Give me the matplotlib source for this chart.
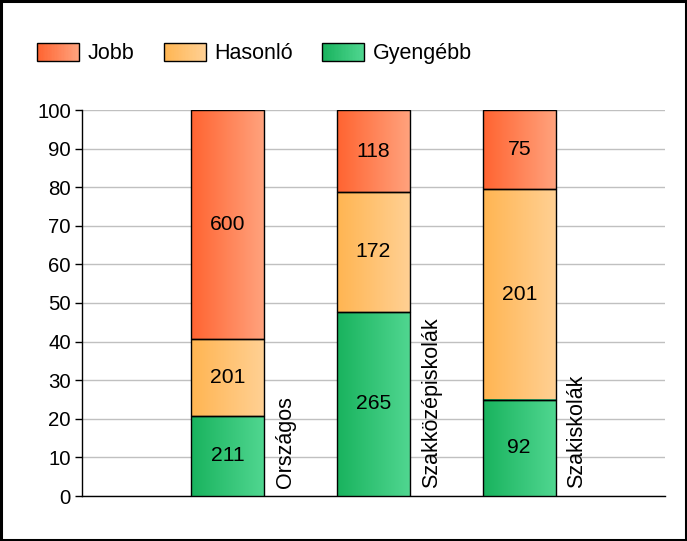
import matplotlib
matplotlib.use("Agg")
import matplotlib.pyplot as plt
import numpy as np
from matplotlib.patches import Rectangle
from matplotlib.legend_handler import HandlerBase
from matplotlib.colors import to_rgb

plt.rcParams['font.family'] = ['Liberation Sans', 'DejaVu Sans']

categories = ["Országos", "Szakközépiskolák", "Szakiskolák"]
series_names = ["Jobb", "Hasonló", "Gyengébb"]
gyengebb = [211, 265, 92]
hasonlo = [201, 172, 201]
jobb = [600, 118, 75]
yticks = [0, 10, 20, 30, 40, 50, 60, 70, 80, 90, 100]

grad = {
    "Gyengébb": ("#19b35e", "#50d690"),
    "Hasonló": ("#ffb552", "#ffd093"),
    "Jobb": ("#ff6431", "#ffa27d"),
}

FS_TICK = 14.7
FS_VAL = 15.2
FS_CAT = 15.5
FS_LEG = 15.5

fig = plt.figure(figsize=(6.87, 5.41), dpi=100)
ax = fig.add_axes([82/687, 1-496/541, (665-82)/687, (496-110)/541])

x = np.arange(len(categories))
totals = np.array(gyengebb) + np.array(hasonlo) + np.array(jobb)
stack = [("Gyengébb", gyengebb), ("Hasonló", hasonlo), ("Jobb", jobb)]
bottom = np.zeros(len(categories))
width = 0.5

def gradient_img(c1, c2, n=64):
    a = np.array(to_rgb(c1)); b = np.array(to_rgb(c2))
    t = np.linspace(0, 1, n)[None, :, None]
    return (a[None, None, :] * (1 - t) + b[None, None, :] * t)

for name, vals in stack:
    pct = np.array(vals) / totals * 100
    bars = ax.bar(x, pct, width, bottom=bottom, facecolor='none',
                  edgecolor='black', linewidth=1, zorder=4)
    img = gradient_img(*grad[name])
    for b, v in zip(bars, vals):
        x0, y0 = b.get_x(), b.get_y()
        w, h = b.get_width(), b.get_height()
        ax.imshow(img, extent=(x0, x0 + w, y0, y0 + h), aspect='auto',
                  zorder=3, interpolation='bilinear')
        ax.text(x0 + w / 2, y0 + h / 2, str(v), ha='center', va='center',
                fontsize=FS_VAL, zorder=5)
    bottom = bottom + pct

for xi, cat in zip(x, categories):
    ax.text(xi + width / 2 + 0.145, 2.0, cat, rotation=90, ha='center',
            va='bottom', fontsize=FS_CAT, zorder=5)

ax.set_xlim(-1, 3)
ax.set_ylim(0, 100)
ax.set_yticks(yticks)
ax.set_yticklabels([str(t) for t in yticks], fontsize=FS_TICK)
ax.set_xticks([])
ax.yaxis.grid(True, color='#c0c0c0', linewidth=1)
ax.set_axisbelow(True)
for s in ['top', 'right']:
    ax.spines[s].set_visible(False)
ax.spines['left'].set_linewidth(1)
ax.spines['bottom'].set_linewidth(1)
ax.tick_params(axis='y', length=5, width=1, pad=3)


class GradHandler(HandlerBase):
    def __init__(self, c1, c2):
        super().__init__()
        self.c1, self.c2 = c1, c2

    def create_artists(self, legend, orig_handle, xdescent, ydescent,
                       width, height, fontsize, trans):
        arts = []
        n = 30
        a = np.array(to_rgb(self.c1)); b = np.array(to_rgb(self.c2))
        for i in range(n):
            t = i / (n - 1)
            col = a * (1 - t) + b * t
            r = Rectangle((-xdescent + width * i / n, -ydescent), width / n * 1.05,
                          height, facecolor=col, edgecolor='none',
                          transform=trans)
            arts.append(r)
        arts.append(Rectangle((-xdescent, -ydescent), width, height,
                              facecolor='none', edgecolor='black', linewidth=1,
                              transform=trans))
        return arts


handles = [Rectangle((0, 0), 1, 1) for _ in series_names]
hmap = {h: GradHandler(*grad[n]) for h, n in zip(handles, series_names)}
fpx = FS_LEG * 100 / 72
fig.legend(handles, series_names, handler_map=hmap, loc='center left',
           bbox_to_anchor=(37/687, 1-53.5/541), ncol=3, frameon=False,
           fontsize=FS_LEG, handlelength=42/fpx, handleheight=19/fpx,
           columnspacing=29/fpx, handletextpad=9/fpx, borderpad=0,
           borderaxespad=0)

fig.patches.append(Rectangle((0.0015, 0.002), 0.997, 0.996, transform=fig.transFigure,
                             facecolor='none', edgecolor='black', linewidth=2.2))

fig.savefig("out.png", dpi=100)
